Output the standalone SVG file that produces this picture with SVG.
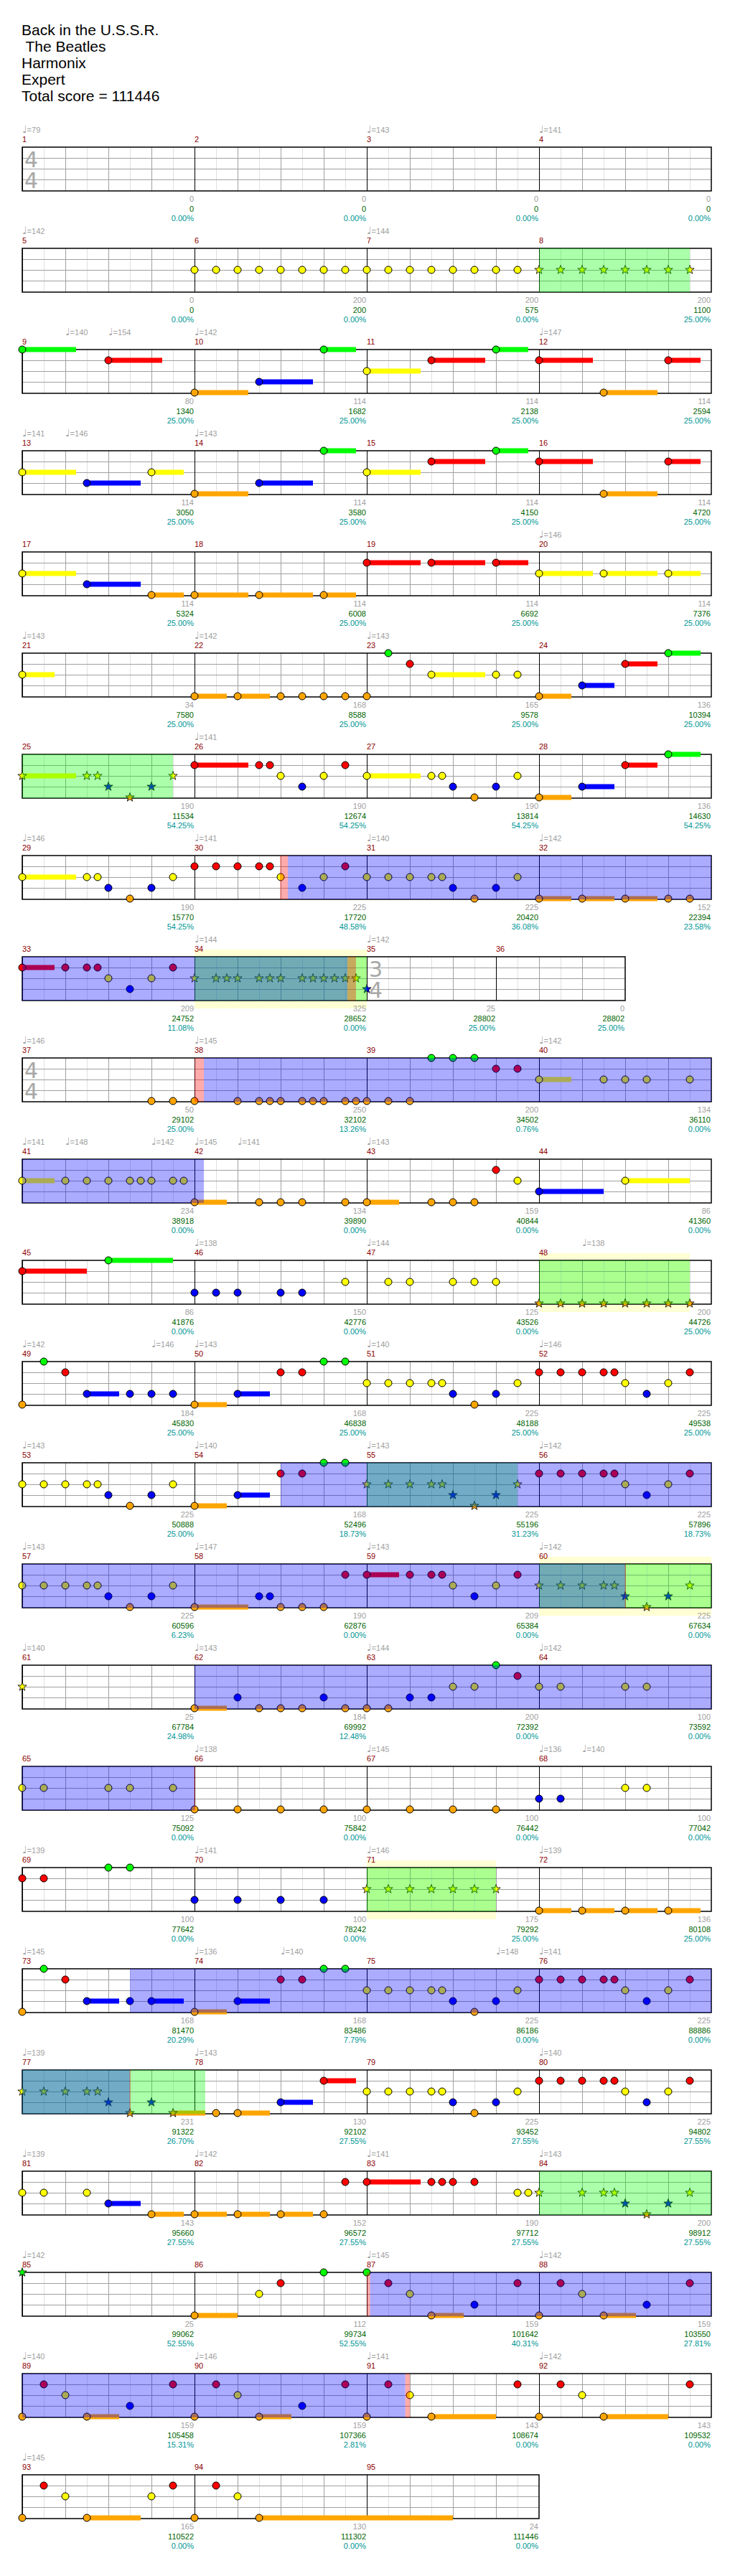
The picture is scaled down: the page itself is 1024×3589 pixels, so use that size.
<svg xmlns="http://www.w3.org/2000/svg" xmlns:xlink="http://www.w3.org/1999/xlink" width="1024" height="3589" viewBox="0 0 1024 3589">
<style>
.ti{font:21px "Liberation Sans",Arial,sans-serif;fill:#000}
.mn{font:11px "Liberation Sans",Arial,sans-serif;fill:#8b0000}
.tp{font:11px "Liberation Sans","DejaVu Sans",sans-serif;fill:#a0a0a0}
.q{font:14px "DejaVu Sans",sans-serif}
.l1,.l2,.l3{font:11px "Liberation Sans",Arial,sans-serif;text-anchor:end}
.l1{fill:#a0a0a0}.l2{fill:#006400}.l3{fill:#009696}
.ts{font:30px "DejaVu Sans",sans-serif;fill:#a8a8a8}
.g{fill:#00ff00}.r{fill:#ff0000}.y{fill:#ffff00}.b{fill:#0000ff}.o{fill:#ffa500}
circle{stroke:#000;stroke-width:1}
.bd{fill:none;stroke:#000;stroke-width:1.5}
.ob{fill:#0000ff;fill-opacity:.33}.og{fill:#00ff00;fill-opacity:.33}.or{fill:#ff0000;fill-opacity:.33}
.py{fill:#ffffd4}
</style>
<defs>
<g id="m4" shape-rendering="crispEdges">
<path d="M30 0V61M90 0V61M150 0V61M210 0V61" stroke="#e0e0e0"/>
<path d="M60 0V61M120 0V61M180 0V61M0 15H240M0 30H240M0 45H240" stroke="#a0a0a0"/>
<path d="M0 0V61" stroke="#000"/>
</g>
<g id="m3" shape-rendering="crispEdges">
<path d="M30 0V61M90 0V61M150 0V61" stroke="#e0e0e0"/>
<path d="M60 0V61M120 0V61M0 15H180M0 30H180M0 45H180" stroke="#a0a0a0"/>
<path d="M0 0V61" stroke="#000"/>
</g>
<polygon id="st" points="0,-6.5 1.53,-2.1 6.18,-2.01 2.47,0.8 3.82,5.26 0,2.6 -3.82,5.26 -2.47,0.8 -6.18,-2.01 -1.53,-2.1" stroke="#000" stroke-width="0.8"/>
</defs>
<rect width="1024" height="3589" fill="#fff"/>
<g id="title">
<text class="ti" x="30" y="49">Back in the U.S.S.R.</text>
<text class="ti" x="30" y="72" xml:space="preserve"> The Beatles</text>
<text class="ti" x="30" y="95">Harmonix</text>
<text class="ti" x="30" y="118">Expert</text>
<text class="ti" x="30" y="141">Total score = 111446</text>
</g>

<g id="row1" transform="translate(0,205)">
<use href="#m4" x="31"/><use href="#m4" x="271"/><use href="#m4" x="511"/><use href="#m4" x="751"/>
<rect class="bd" x="31" width="960" height="61"/>
<text class="ts" x="34" y="28">4</text><text class="ts" x="34" y="57">4</text>
<text class="mn" x="31" y="-7">1</text><text class="mn" x="271" y="-7">2</text><text class="mn" x="511" y="-7">3</text><text class="mn" x="751" y="-7">4</text>
<text class="tp" x="31" y="-20"><tspan class="q">♩</tspan>=79</text><text class="tp" x="511" y="-20"><tspan class="q">♩</tspan>=143</text><text class="tp" x="751" y="-20"><tspan class="q">♩</tspan>=141</text>
<text class="l1" x="270" y="76">0</text><text class="l1" x="510" y="76">0</text><text class="l1" x="750" y="76">0</text><text class="l1" x="990" y="76">0</text>
<text class="l2" x="270" y="90">0</text><text class="l2" x="510" y="90">0</text><text class="l2" x="750" y="90">0</text><text class="l2" x="990" y="90">0</text>
<text class="l3" x="270" y="103">0.00%</text><text class="l3" x="510" y="103">0.00%</text><text class="l3" x="750" y="103">0.00%</text><text class="l3" x="990" y="103">0.00%</text>
</g>

<g id="row2" transform="translate(0,346)">
<use href="#m4" x="31"/><use href="#m4" x="271"/><use href="#m4" x="511"/><use href="#m4" x="751"/>
<rect class="bd" x="31" width="960" height="61"/>
<text class="mn" x="31" y="-7">5</text><text class="mn" x="271" y="-7">6</text><text class="mn" x="511" y="-7">7</text><text class="mn" x="751" y="-7">8</text>
<text class="tp" x="31" y="-20"><tspan class="q">♩</tspan>=142</text><text class="tp" x="511" y="-20"><tspan class="q">♩</tspan>=144</text>
<circle class="y" cx="271" cy="30" r="5"/><circle class="y" cx="301" cy="30" r="5"/><circle class="y" cx="331" cy="30" r="5"/><circle class="y" cx="361" cy="30" r="5"/><circle class="y" cx="391" cy="30" r="5"/><circle class="y" cx="421" cy="30" r="5"/><circle class="y" cx="451" cy="30" r="5"/><circle class="y" cx="481" cy="30" r="5"/><circle class="y" cx="511" cy="30" r="5"/><circle class="y" cx="541" cy="30" r="5"/><circle class="y" cx="571" cy="30" r="5"/><circle class="y" cx="601" cy="30" r="5"/><circle class="y" cx="631" cy="30" r="5"/><circle class="y" cx="661" cy="30" r="5"/><circle class="y" cx="691" cy="30" r="5"/><circle class="y" cx="721" cy="30" r="5"/>
<use href="#st" class="y" x="751" y="30"/><use href="#st" class="y" x="781" y="30"/><use href="#st" class="y" x="811" y="30"/><use href="#st" class="y" x="841" y="30"/><use href="#st" class="y" x="871" y="30"/><use href="#st" class="y" x="901" y="30"/><use href="#st" class="y" x="931" y="30"/><use href="#st" class="y" x="961" y="30"/>
<rect class="og" x="751" y="0" width="210" height="61"/>
<text class="l1" x="270" y="76">0</text><text class="l1" x="510" y="76">200</text><text class="l1" x="750" y="76">200</text><text class="l1" x="990" y="76">200</text>
<text class="l2" x="270" y="90">0</text><text class="l2" x="510" y="90">200</text><text class="l2" x="750" y="90">575</text><text class="l2" x="990" y="90">1100</text>
<text class="l3" x="270" y="103">0.00%</text><text class="l3" x="510" y="103">0.00%</text><text class="l3" x="750" y="103">0.00%</text><text class="l3" x="990" y="103">25.00%</text>
</g>

<g id="row3" transform="translate(0,487)">
<use href="#m4" x="31"/><use href="#m4" x="271"/><use href="#m4" x="511"/><use href="#m4" x="751"/>
<rect class="bd" x="31" width="960" height="61"/>
<text class="mn" x="31" y="-7">9</text><text class="mn" x="271" y="-7">10</text><text class="mn" x="511" y="-7">11</text><text class="mn" x="751" y="-7">12</text>
<text class="tp" x="91" y="-20"><tspan class="q">♩</tspan>=140</text><text class="tp" x="151" y="-20"><tspan class="q">♩</tspan>=154</text><text class="tp" x="271" y="-20"><tspan class="q">♩</tspan>=142</text><text class="tp" x="751" y="-20"><tspan class="q">♩</tspan>=147</text>
<rect class="g" x="31" y="-3.5" width="75" height="7"/><circle class="g" cx="31" cy="0" r="5"/>
<rect class="r" x="151" y="11.5" width="75" height="7"/><circle class="r" cx="151" cy="15" r="5"/>
<rect class="o" x="271" y="56.5" width="75" height="7"/><circle class="o" cx="271" cy="60" r="5"/>
<rect class="b" x="361" y="41.5" width="75" height="7"/><circle class="b" cx="361" cy="45" r="5"/>
<rect class="g" x="451" y="-3.5" width="45" height="7"/><circle class="g" cx="451" cy="0" r="5"/>
<rect class="y" x="511" y="26.5" width="75" height="7"/><circle class="y" cx="511" cy="30" r="5"/>
<rect class="r" x="601" y="11.5" width="75" height="7"/><circle class="r" cx="601" cy="15" r="5"/>
<rect class="g" x="691" y="-3.5" width="45" height="7"/><circle class="g" cx="691" cy="0" r="5"/>
<rect class="r" x="751" y="11.5" width="75" height="7"/><circle class="r" cx="751" cy="15" r="5"/>
<rect class="o" x="841" y="56.5" width="75" height="7"/><circle class="o" cx="841" cy="60" r="5"/>
<rect class="r" x="931" y="11.5" width="45" height="7"/><circle class="r" cx="931" cy="15" r="5"/>
<text class="l1" x="270" y="76">80</text><text class="l1" x="510" y="76">114</text><text class="l1" x="750" y="76">114</text><text class="l1" x="990" y="76">114</text>
<text class="l2" x="270" y="90">1340</text><text class="l2" x="510" y="90">1682</text><text class="l2" x="750" y="90">2138</text><text class="l2" x="990" y="90">2594</text>
<text class="l3" x="270" y="103">25.00%</text><text class="l3" x="510" y="103">25.00%</text><text class="l3" x="750" y="103">25.00%</text><text class="l3" x="990" y="103">25.00%</text>
</g>

<g id="row4" transform="translate(0,628)">
<use href="#m4" x="31"/><use href="#m4" x="271"/><use href="#m4" x="511"/><use href="#m4" x="751"/>
<rect class="bd" x="31" width="960" height="61"/>
<text class="mn" x="31" y="-7">13</text><text class="mn" x="271" y="-7">14</text><text class="mn" x="511" y="-7">15</text><text class="mn" x="751" y="-7">16</text>
<text class="tp" x="31" y="-20"><tspan class="q">♩</tspan>=141</text><text class="tp" x="91" y="-20"><tspan class="q">♩</tspan>=146</text><text class="tp" x="271" y="-20"><tspan class="q">♩</tspan>=143</text>
<rect class="y" x="31" y="26.5" width="75" height="7"/><circle class="y" cx="31" cy="30" r="5"/>
<rect class="b" x="121" y="41.5" width="75" height="7"/><circle class="b" cx="121" cy="45" r="5"/>
<rect class="y" x="211" y="26.5" width="45" height="7"/><circle class="y" cx="211" cy="30" r="5"/>
<rect class="o" x="271" y="56.5" width="75" height="7"/><circle class="o" cx="271" cy="60" r="5"/>
<rect class="b" x="361" y="41.5" width="75" height="7"/><circle class="b" cx="361" cy="45" r="5"/>
<rect class="g" x="451" y="-3.5" width="45" height="7"/><circle class="g" cx="451" cy="0" r="5"/>
<rect class="y" x="511" y="26.5" width="75" height="7"/><circle class="y" cx="511" cy="30" r="5"/>
<rect class="r" x="601" y="11.5" width="75" height="7"/><circle class="r" cx="601" cy="15" r="5"/>
<rect class="g" x="691" y="-3.5" width="45" height="7"/><circle class="g" cx="691" cy="0" r="5"/>
<rect class="r" x="751" y="11.5" width="75" height="7"/><circle class="r" cx="751" cy="15" r="5"/>
<rect class="o" x="841" y="56.5" width="75" height="7"/><circle class="o" cx="841" cy="60" r="5"/>
<rect class="r" x="931" y="11.5" width="45" height="7"/><circle class="r" cx="931" cy="15" r="5"/>
<text class="l1" x="270" y="76">114</text><text class="l1" x="510" y="76">114</text><text class="l1" x="750" y="76">114</text><text class="l1" x="990" y="76">114</text>
<text class="l2" x="270" y="90">3050</text><text class="l2" x="510" y="90">3580</text><text class="l2" x="750" y="90">4150</text><text class="l2" x="990" y="90">4720</text>
<text class="l3" x="270" y="103">25.00%</text><text class="l3" x="510" y="103">25.00%</text><text class="l3" x="750" y="103">25.00%</text><text class="l3" x="990" y="103">25.00%</text>
</g>

<g id="row5" transform="translate(0,769)">
<use href="#m4" x="31"/><use href="#m4" x="271"/><use href="#m4" x="511"/><use href="#m4" x="751"/>
<rect class="bd" x="31" width="960" height="61"/>
<text class="mn" x="31" y="-7">17</text><text class="mn" x="271" y="-7">18</text><text class="mn" x="511" y="-7">19</text><text class="mn" x="751" y="-7">20</text>
<text class="tp" x="751" y="-20"><tspan class="q">♩</tspan>=146</text>
<rect class="y" x="31" y="26.5" width="75" height="7"/><circle class="y" cx="31" cy="30" r="5"/>
<rect class="b" x="121" y="41.5" width="75" height="7"/><circle class="b" cx="121" cy="45" r="5"/>
<rect class="o" x="211" y="56.5" width="45" height="7"/><circle class="o" cx="211" cy="60" r="5"/>
<rect class="o" x="271" y="56.5" width="75" height="7"/><circle class="o" cx="271" cy="60" r="5"/>
<rect class="o" x="361" y="56.5" width="75" height="7"/><circle class="o" cx="361" cy="60" r="5"/>
<rect class="o" x="451" y="56.5" width="45" height="7"/><circle class="o" cx="451" cy="60" r="5"/>
<rect class="r" x="511" y="11.5" width="75" height="7"/><circle class="r" cx="511" cy="15" r="5"/>
<rect class="r" x="601" y="11.5" width="75" height="7"/><circle class="r" cx="601" cy="15" r="5"/>
<rect class="r" x="691" y="11.5" width="45" height="7"/><circle class="r" cx="691" cy="15" r="5"/>
<rect class="y" x="751" y="26.5" width="75" height="7"/><circle class="y" cx="751" cy="30" r="5"/>
<rect class="y" x="841" y="26.5" width="75" height="7"/><circle class="y" cx="841" cy="30" r="5"/>
<rect class="y" x="931" y="26.5" width="45" height="7"/><circle class="y" cx="931" cy="30" r="5"/>
<text class="l1" x="270" y="76">114</text><text class="l1" x="510" y="76">114</text><text class="l1" x="750" y="76">114</text><text class="l1" x="990" y="76">114</text>
<text class="l2" x="270" y="90">5324</text><text class="l2" x="510" y="90">6008</text><text class="l2" x="750" y="90">6692</text><text class="l2" x="990" y="90">7376</text>
<text class="l3" x="270" y="103">25.00%</text><text class="l3" x="510" y="103">25.00%</text><text class="l3" x="750" y="103">25.00%</text><text class="l3" x="990" y="103">25.00%</text>
</g>

<g id="row6" transform="translate(0,910)">
<use href="#m4" x="31"/><use href="#m4" x="271"/><use href="#m4" x="511"/><use href="#m4" x="751"/>
<rect class="bd" x="31" width="960" height="61"/>
<text class="mn" x="31" y="-7">21</text><text class="mn" x="271" y="-7">22</text><text class="mn" x="511" y="-7">23</text><text class="mn" x="751" y="-7">24</text>
<text class="tp" x="31" y="-20"><tspan class="q">♩</tspan>=143</text><text class="tp" x="271" y="-20"><tspan class="q">♩</tspan>=142</text><text class="tp" x="511" y="-20"><tspan class="q">♩</tspan>=143</text>
<rect class="y" x="31" y="26.5" width="45" height="7"/><circle class="y" cx="31" cy="30" r="5"/>
<rect class="o" x="271" y="56.5" width="45" height="7"/><circle class="o" cx="271" cy="60" r="5"/>
<rect class="o" x="331" y="56.5" width="45" height="7"/><circle class="o" cx="331" cy="60" r="5"/>
<circle class="o" cx="391" cy="60" r="5"/><circle class="o" cx="421" cy="60" r="5"/><circle class="o" cx="451" cy="60" r="5"/><circle class="o" cx="481" cy="60" r="5"/><circle class="o" cx="511" cy="60" r="5"/>
<circle class="g" cx="541" cy="0" r="5"/><circle class="r" cx="571" cy="15" r="5"/>
<rect class="y" x="601" y="26.5" width="75" height="7"/><circle class="y" cx="601" cy="30" r="5"/>
<circle class="y" cx="691" cy="30" r="5"/><circle class="y" cx="721" cy="30" r="5"/>
<rect class="o" x="751" y="56.5" width="45" height="7"/><circle class="o" cx="751" cy="60" r="5"/>
<rect class="b" x="811" y="41.5" width="45" height="7"/><circle class="b" cx="811" cy="45" r="5"/>
<rect class="r" x="871" y="11.5" width="45" height="7"/><circle class="r" cx="871" cy="15" r="5"/>
<rect class="g" x="931" y="-3.5" width="45" height="7"/><circle class="g" cx="931" cy="0" r="5"/>
<text class="l1" x="270" y="76">34</text><text class="l1" x="510" y="76">168</text><text class="l1" x="750" y="76">165</text><text class="l1" x="990" y="76">136</text>
<text class="l2" x="270" y="90">7580</text><text class="l2" x="510" y="90">8588</text><text class="l2" x="750" y="90">9578</text><text class="l2" x="990" y="90">10394</text>
<text class="l3" x="270" y="103">25.00%</text><text class="l3" x="510" y="103">25.00%</text><text class="l3" x="750" y="103">25.00%</text><text class="l3" x="990" y="103">25.00%</text>
</g>

<g id="row7" transform="translate(0,1051)">
<use href="#m4" x="31"/><use href="#m4" x="271"/><use href="#m4" x="511"/><use href="#m4" x="751"/>
<rect class="bd" x="31" width="960" height="61"/>
<text class="mn" x="31" y="-7">25</text><text class="mn" x="271" y="-7">26</text><text class="mn" x="511" y="-7">27</text><text class="mn" x="751" y="-7">28</text>
<text class="tp" x="271" y="-20"><tspan class="q">♩</tspan>=141</text>
<rect class="y" x="31" y="26.5" width="75" height="7"/><use href="#st" class="y" x="31" y="30"/>
<use href="#st" class="y" x="121" y="30"/><use href="#st" class="y" x="136" y="30"/><use href="#st" class="b" x="151" y="45"/><use href="#st" class="o" x="181" y="60"/><use href="#st" class="b" x="211" y="45"/><use href="#st" class="y" x="241" y="30"/>
<rect class="r" x="271" y="11.5" width="75" height="7"/><circle class="r" cx="271" cy="15" r="5"/>
<circle class="r" cx="361" cy="15" r="5"/><circle class="r" cx="376" cy="15" r="5"/><circle class="y" cx="391" cy="30" r="5"/><circle class="b" cx="421" cy="45" r="5"/><circle class="y" cx="451" cy="30" r="5"/><circle class="r" cx="481" cy="15" r="5"/>
<rect class="y" x="511" y="26.5" width="75" height="7"/><circle class="y" cx="511" cy="30" r="5"/>
<circle class="y" cx="601" cy="30" r="5"/><circle class="y" cx="616" cy="30" r="5"/><circle class="b" cx="631" cy="45" r="5"/><circle class="o" cx="661" cy="60" r="5"/><circle class="b" cx="691" cy="45" r="5"/><circle class="y" cx="721" cy="30" r="5"/>
<rect class="o" x="751" y="56.5" width="45" height="7"/><circle class="o" cx="751" cy="60" r="5"/>
<rect class="b" x="811" y="41.5" width="45" height="7"/><circle class="b" cx="811" cy="45" r="5"/>
<rect class="r" x="871" y="11.5" width="45" height="7"/><circle class="r" cx="871" cy="15" r="5"/>
<rect class="g" x="931" y="-3.5" width="45" height="7"/><circle class="g" cx="931" cy="0" r="5"/>
<rect class="og" x="31" y="0" width="210" height="61"/>
<text class="l1" x="270" y="76">190</text><text class="l1" x="510" y="76">190</text><text class="l1" x="750" y="76">190</text><text class="l1" x="990" y="76">136</text>
<text class="l2" x="270" y="90">11534</text><text class="l2" x="510" y="90">12674</text><text class="l2" x="750" y="90">13814</text><text class="l2" x="990" y="90">14630</text>
<text class="l3" x="270" y="103">54.25%</text><text class="l3" x="510" y="103">54.25%</text><text class="l3" x="750" y="103">54.25%</text><text class="l3" x="990" y="103">54.25%</text>
</g>

<g id="row8" transform="translate(0,1192)">
<use href="#m4" x="31"/><use href="#m4" x="271"/><use href="#m4" x="511"/><use href="#m4" x="751"/>
<rect class="bd" x="31" width="960" height="61"/>
<text class="mn" x="31" y="-7">29</text><text class="mn" x="271" y="-7">30</text><text class="mn" x="511" y="-7">31</text><text class="mn" x="751" y="-7">32</text>
<text class="tp" x="31" y="-20"><tspan class="q">♩</tspan>=146</text><text class="tp" x="271" y="-20"><tspan class="q">♩</tspan>=141</text><text class="tp" x="511" y="-20"><tspan class="q">♩</tspan>=140</text><text class="tp" x="751" y="-20"><tspan class="q">♩</tspan>=142</text>
<rect class="y" x="31" y="26.5" width="75" height="7"/><circle class="y" cx="31" cy="30" r="5"/>
<circle class="y" cx="121" cy="30" r="5"/><circle class="y" cx="136" cy="30" r="5"/><circle class="b" cx="151" cy="45" r="5"/><circle class="o" cx="181" cy="60" r="5"/><circle class="b" cx="211" cy="45" r="5"/><circle class="y" cx="241" cy="30" r="5"/>
<circle class="r" cx="271" cy="15" r="5"/><circle class="r" cx="301" cy="15" r="5"/><circle class="r" cx="331" cy="15" r="5"/><circle class="r" cx="361" cy="15" r="5"/><circle class="r" cx="376" cy="15" r="5"/>
<circle class="y" cx="391" cy="30" r="5"/><circle class="b" cx="421" cy="45" r="5"/><circle class="y" cx="451" cy="30" r="5"/><circle class="r" cx="481" cy="15" r="5"/>
<circle class="y" cx="511" cy="30" r="5"/><circle class="y" cx="541" cy="30" r="5"/><circle class="y" cx="571" cy="30" r="5"/><circle class="y" cx="601" cy="30" r="5"/><circle class="y" cx="616" cy="30" r="5"/>
<circle class="b" cx="631" cy="45" r="5"/><circle class="o" cx="661" cy="60" r="5"/><circle class="b" cx="691" cy="45" r="5"/><circle class="y" cx="721" cy="30" r="5"/>
<rect class="o" x="751" y="56.5" width="45" height="7"/><circle class="o" cx="751" cy="60" r="5"/>
<rect class="o" x="811" y="56.5" width="45" height="7"/><circle class="o" cx="811" cy="60" r="5"/>
<rect class="o" x="871" y="56.5" width="45" height="7"/><circle class="o" cx="871" cy="60" r="5"/>
<circle class="o" cx="931" cy="60" r="5"/><circle class="o" cx="961" cy="60" r="5"/>
<rect class="or" x="390" y="0" width="11" height="61"/><rect class="ob" x="401" y="0" width="590" height="61"/>
<text class="l1" x="270" y="76">190</text><text class="l1" x="510" y="76">225</text><text class="l1" x="750" y="76">225</text><text class="l1" x="990" y="76">152</text>
<text class="l2" x="270" y="90">15770</text><text class="l2" x="510" y="90">17720</text><text class="l2" x="750" y="90">20420</text><text class="l2" x="990" y="90">22394</text>
<text class="l3" x="270" y="103">54.25%</text><text class="l3" x="510" y="103">48.58%</text><text class="l3" x="750" y="103">36.08%</text><text class="l3" x="990" y="103">23.58%</text>
</g>

<g id="row9" transform="translate(0,1333)">
<rect class="py" x="271" y="-10" width="240" height="82"/>
<use href="#m4" x="31"/><use href="#m4" x="271"/><use href="#m3" x="511"/><use href="#m3" x="691"/>
<rect class="bd" x="31" width="840" height="61"/>
<text class="ts" x="514" y="28">3</text><text class="ts" x="514" y="57">4</text>
<text class="mn" x="31" y="-7">33</text><text class="mn" x="271" y="-7">34</text><text class="mn" x="511" y="-7">35</text><text class="mn" x="691" y="-7">36</text>
<text class="tp" x="271" y="-20"><tspan class="q">♩</tspan>=144</text><text class="tp" x="511" y="-20"><tspan class="q">♩</tspan>=142</text>
<rect class="r" x="31" y="11.5" width="45" height="7"/><circle class="r" cx="31" cy="15" r="5"/>
<circle class="r" cx="91" cy="15" r="5"/><circle class="r" cx="121" cy="15" r="5"/><circle class="r" cx="136" cy="15" r="5"/><circle class="y" cx="151" cy="30" r="5"/><circle class="b" cx="181" cy="45" r="5"/><circle class="y" cx="211" cy="30" r="5"/><circle class="r" cx="241" cy="15" r="5"/>
<use href="#st" class="y" x="271" y="30"/><use href="#st" class="y" x="301" y="30"/><use href="#st" class="y" x="316" y="30"/><use href="#st" class="y" x="331" y="30"/><use href="#st" class="y" x="361" y="30"/><use href="#st" class="y" x="376" y="30"/><use href="#st" class="y" x="391" y="30"/><use href="#st" class="y" x="421" y="30"/><use href="#st" class="y" x="436" y="30"/><use href="#st" class="y" x="451" y="30"/><use href="#st" class="y" x="466" y="30"/><use href="#st" class="y" x="481" y="30"/><use href="#st" class="y" x="496" y="30"/><use href="#st" class="b" x="511" y="45"/>
<rect class="og" x="271" y="0" width="240" height="61"/><rect class="ob" x="31" y="0" width="453" height="61"/><rect class="or" x="484" y="0" width="12" height="61"/>
<text class="l1" x="270" y="76">209</text><text class="l1" x="510" y="76">325</text><text class="l1" x="690" y="76">25</text><text class="l1" x="870" y="76">0</text>
<text class="l2" x="270" y="90">24752</text><text class="l2" x="510" y="90">28652</text><text class="l2" x="690" y="90">28802</text><text class="l2" x="870" y="90">28802</text>
<text class="l3" x="270" y="103">11.08%</text><text class="l3" x="510" y="103">0.00%</text><text class="l3" x="690" y="103">25.00%</text><text class="l3" x="870" y="103">25.00%</text>
</g>

<g id="row10" transform="translate(0,1474)">
<use href="#m4" x="31"/><use href="#m4" x="271"/><use href="#m4" x="511"/><use href="#m4" x="751"/>
<rect class="bd" x="31" width="960" height="61"/>
<text class="ts" x="34" y="28">4</text><text class="ts" x="34" y="57">4</text>
<text class="mn" x="31" y="-7">37</text><text class="mn" x="271" y="-7">38</text><text class="mn" x="511" y="-7">39</text><text class="mn" x="751" y="-7">40</text>
<text class="tp" x="31" y="-20"><tspan class="q">♩</tspan>=146</text><text class="tp" x="271" y="-20"><tspan class="q">♩</tspan>=145</text><text class="tp" x="751" y="-20"><tspan class="q">♩</tspan>=142</text>
<circle class="o" cx="211" cy="60" r="5"/><circle class="o" cx="241" cy="60" r="5"/><circle class="o" cx="271" cy="60" r="5"/>
<circle class="o" cx="331" cy="60" r="5"/><circle class="o" cx="361" cy="60" r="5"/><circle class="o" cx="376" cy="60" r="5"/><circle class="o" cx="391" cy="60" r="5"/><circle class="o" cx="421" cy="60" r="5"/><circle class="o" cx="436" cy="60" r="5"/><circle class="o" cx="451" cy="60" r="5"/><circle class="o" cx="481" cy="60" r="5"/><circle class="o" cx="496" cy="60" r="5"/><circle class="o" cx="511" cy="60" r="5"/><circle class="o" cx="541" cy="60" r="5"/><circle class="o" cx="571" cy="60" r="5"/>
<circle class="g" cx="601" cy="0" r="5"/><circle class="g" cx="631" cy="0" r="5"/><circle class="g" cx="661" cy="0" r="5"/>
<circle class="r" cx="691" cy="15" r="5"/><circle class="r" cx="721" cy="15" r="5"/>
<rect class="y" x="751" y="26.5" width="45" height="7"/><circle class="y" cx="751" cy="30" r="5"/>
<circle class="y" cx="841" cy="30" r="5"/><circle class="y" cx="871" cy="30" r="5"/><circle class="y" cx="901" cy="30" r="5"/><circle class="y" cx="961" cy="30" r="5"/>
<rect class="or" x="271" y="0" width="13" height="61"/><rect class="ob" x="284" y="0" width="707" height="61"/>
<text class="l1" x="270" y="76">50</text><text class="l1" x="510" y="76">250</text><text class="l1" x="750" y="76">200</text><text class="l1" x="990" y="76">134</text>
<text class="l2" x="270" y="90">29102</text><text class="l2" x="510" y="90">32102</text><text class="l2" x="750" y="90">34502</text><text class="l2" x="990" y="90">36110</text>
<text class="l3" x="270" y="103">25.00%</text><text class="l3" x="510" y="103">13.26%</text><text class="l3" x="750" y="103">0.76%</text><text class="l3" x="990" y="103">0.00%</text>
</g>

<g id="row11" transform="translate(0,1615)">
<use href="#m4" x="31"/><use href="#m4" x="271"/><use href="#m4" x="511"/><use href="#m4" x="751"/>
<rect class="bd" x="31" width="960" height="61"/>
<text class="mn" x="31" y="-7">41</text><text class="mn" x="271" y="-7">42</text><text class="mn" x="511" y="-7">43</text><text class="mn" x="751" y="-7">44</text>
<text class="tp" x="31" y="-20"><tspan class="q">♩</tspan>=141</text><text class="tp" x="91" y="-20"><tspan class="q">♩</tspan>=148</text><text class="tp" x="211" y="-20"><tspan class="q">♩</tspan>=142</text><text class="tp" x="271" y="-20"><tspan class="q">♩</tspan>=145</text><text class="tp" x="331" y="-20"><tspan class="q">♩</tspan>=141</text><text class="tp" x="511" y="-20"><tspan class="q">♩</tspan>=143</text>
<rect class="y" x="31" y="26.5" width="45" height="7"/><circle class="y" cx="31" cy="30" r="5"/>
<circle class="y" cx="91" cy="30" r="5"/><circle class="y" cx="121" cy="30" r="5"/><circle class="y" cx="151" cy="30" r="5"/><circle class="y" cx="181" cy="30" r="5"/><circle class="y" cx="196" cy="30" r="5"/><circle class="y" cx="211" cy="30" r="5"/><circle class="y" cx="241" cy="30" r="5"/><circle class="y" cx="256" cy="30" r="5"/>
<rect class="o" x="271" y="56.5" width="45" height="7"/><circle class="o" cx="271" cy="60" r="5"/>
<circle class="o" cx="361" cy="60" r="5"/><circle class="o" cx="391" cy="60" r="5"/><circle class="o" cx="421" cy="60" r="5"/><circle class="o" cx="481" cy="60" r="5"/>
<rect class="o" x="511" y="56.5" width="45" height="7"/><circle class="o" cx="511" cy="60" r="5"/>
<circle class="o" cx="601" cy="60" r="5"/><circle class="o" cx="631" cy="60" r="5"/><circle class="o" cx="661" cy="60" r="5"/>
<circle class="r" cx="691" cy="15" r="5"/><circle class="y" cx="721" cy="30" r="5"/>
<rect class="b" x="751" y="41.5" width="90" height="7"/><circle class="b" cx="751" cy="45" r="5"/>
<rect class="y" x="871" y="26.5" width="90" height="7"/><circle class="y" cx="871" cy="30" r="5"/>
<rect class="ob" x="31" y="0" width="253" height="61"/>
<text class="l1" x="270" y="76">234</text><text class="l1" x="510" y="76">134</text><text class="l1" x="750" y="76">159</text><text class="l1" x="990" y="76">86</text>
<text class="l2" x="270" y="90">38918</text><text class="l2" x="510" y="90">39890</text><text class="l2" x="750" y="90">40844</text><text class="l2" x="990" y="90">41360</text>
<text class="l3" x="270" y="103">0.00%</text><text class="l3" x="510" y="103">0.00%</text><text class="l3" x="750" y="103">0.00%</text><text class="l3" x="990" y="103">0.00%</text>
</g>

<g id="row12" transform="translate(0,1756)">
<rect class="py" x="751" y="-10" width="210" height="82"/>
<use href="#m4" x="31"/><use href="#m4" x="271"/><use href="#m4" x="511"/><use href="#m4" x="751"/>
<rect class="bd" x="31" width="960" height="61"/>
<text class="mn" x="31" y="-7">45</text><text class="mn" x="271" y="-7">46</text><text class="mn" x="511" y="-7">47</text><text class="mn" x="751" y="-7">48</text>
<text class="tp" x="271" y="-20"><tspan class="q">♩</tspan>=138</text><text class="tp" x="511" y="-20"><tspan class="q">♩</tspan>=144</text><text class="tp" x="811" y="-20"><tspan class="q">♩</tspan>=138</text>
<rect class="r" x="31" y="11.5" width="90" height="7"/><circle class="r" cx="31" cy="15" r="5"/>
<rect class="g" x="151" y="-3.5" width="90" height="7"/><circle class="g" cx="151" cy="0" r="5"/>
<circle class="b" cx="271" cy="45" r="5"/><circle class="b" cx="301" cy="45" r="5"/><circle class="b" cx="331" cy="45" r="5"/><circle class="b" cx="391" cy="45" r="5"/><circle class="b" cx="421" cy="45" r="5"/>
<circle class="y" cx="481" cy="30" r="5"/><circle class="y" cx="541" cy="30" r="5"/><circle class="y" cx="571" cy="30" r="5"/><circle class="y" cx="631" cy="30" r="5"/><circle class="y" cx="661" cy="30" r="5"/><circle class="y" cx="691" cy="30" r="5"/>
<use href="#st" class="o" x="751" y="60"/><use href="#st" class="o" x="781" y="60"/><use href="#st" class="o" x="811" y="60"/><use href="#st" class="o" x="841" y="60"/><use href="#st" class="o" x="871" y="60"/><use href="#st" class="o" x="901" y="60"/><use href="#st" class="o" x="931" y="60"/><use href="#st" class="o" x="961" y="60"/>
<rect class="og" x="751" y="0" width="210" height="61"/>
<text class="l1" x="270" y="76">86</text><text class="l1" x="510" y="76">150</text><text class="l1" x="750" y="76">125</text><text class="l1" x="990" y="76">200</text>
<text class="l2" x="270" y="90">41876</text><text class="l2" x="510" y="90">42776</text><text class="l2" x="750" y="90">43526</text><text class="l2" x="990" y="90">44726</text>
<text class="l3" x="270" y="103">0.00%</text><text class="l3" x="510" y="103">0.00%</text><text class="l3" x="750" y="103">0.00%</text><text class="l3" x="990" y="103">25.00%</text>
</g>

<g id="row13" transform="translate(0,1897)">
<use href="#m4" x="31"/><use href="#m4" x="271"/><use href="#m4" x="511"/><use href="#m4" x="751"/>
<rect class="bd" x="31" width="960" height="61"/>
<text class="mn" x="31" y="-7">49</text><text class="mn" x="271" y="-7">50</text><text class="mn" x="511" y="-7">51</text><text class="mn" x="751" y="-7">52</text>
<text class="tp" x="31" y="-20"><tspan class="q">♩</tspan>=142</text><text class="tp" x="211" y="-20"><tspan class="q">♩</tspan>=146</text><text class="tp" x="271" y="-20"><tspan class="q">♩</tspan>=143</text><text class="tp" x="511" y="-20"><tspan class="q">♩</tspan>=140</text><text class="tp" x="751" y="-20"><tspan class="q">♩</tspan>=146</text>
<circle class="o" cx="31" cy="60" r="5"/><circle class="g" cx="61" cy="0" r="5"/><circle class="r" cx="91" cy="15" r="5"/>
<rect class="b" x="121" y="41.5" width="45" height="7"/><circle class="b" cx="121" cy="45" r="5"/>
<circle class="b" cx="181" cy="45" r="5"/><circle class="b" cx="211" cy="45" r="5"/><circle class="b" cx="241" cy="45" r="5"/>
<rect class="o" x="271" y="56.5" width="45" height="7"/><circle class="o" cx="271" cy="60" r="5"/>
<rect class="b" x="331" y="41.5" width="45" height="7"/><circle class="b" cx="331" cy="45" r="5"/>
<circle class="r" cx="391" cy="15" r="5"/><circle class="r" cx="421" cy="15" r="5"/><circle class="g" cx="451" cy="0" r="5"/><circle class="g" cx="481" cy="0" r="5"/>
<circle class="y" cx="511" cy="30" r="5"/><circle class="y" cx="541" cy="30" r="5"/><circle class="y" cx="571" cy="30" r="5"/><circle class="y" cx="601" cy="30" r="5"/><circle class="y" cx="616" cy="30" r="5"/>
<circle class="b" cx="631" cy="45" r="5"/><circle class="o" cx="661" cy="60" r="5"/><circle class="b" cx="691" cy="45" r="5"/><circle class="y" cx="721" cy="30" r="5"/>
<circle class="r" cx="751" cy="15" r="5"/><circle class="r" cx="781" cy="15" r="5"/><circle class="r" cx="811" cy="15" r="5"/><circle class="r" cx="841" cy="15" r="5"/><circle class="r" cx="856" cy="15" r="5"/>
<circle class="y" cx="871" cy="30" r="5"/><circle class="b" cx="901" cy="45" r="5"/><circle class="y" cx="931" cy="30" r="5"/><circle class="r" cx="961" cy="15" r="5"/>
<text class="l1" x="270" y="76">184</text><text class="l1" x="510" y="76">168</text><text class="l1" x="750" y="76">225</text><text class="l1" x="990" y="76">225</text>
<text class="l2" x="270" y="90">45830</text><text class="l2" x="510" y="90">46838</text><text class="l2" x="750" y="90">48188</text><text class="l2" x="990" y="90">49538</text>
<text class="l3" x="270" y="103">25.00%</text><text class="l3" x="510" y="103">25.00%</text><text class="l3" x="750" y="103">25.00%</text><text class="l3" x="990" y="103">25.00%</text>
</g>

<g id="row14" transform="translate(0,2038)">
<use href="#m4" x="31"/><use href="#m4" x="271"/><use href="#m4" x="511"/><use href="#m4" x="751"/>
<rect class="bd" x="31" width="960" height="61"/>
<text class="mn" x="31" y="-7">53</text><text class="mn" x="271" y="-7">54</text><text class="mn" x="511" y="-7">55</text><text class="mn" x="751" y="-7">56</text>
<text class="tp" x="31" y="-20"><tspan class="q">♩</tspan>=143</text><text class="tp" x="271" y="-20"><tspan class="q">♩</tspan>=140</text><text class="tp" x="511" y="-20"><tspan class="q">♩</tspan>=143</text><text class="tp" x="751" y="-20"><tspan class="q">♩</tspan>=142</text>
<circle class="y" cx="31" cy="30" r="5"/><circle class="y" cx="61" cy="30" r="5"/><circle class="y" cx="91" cy="30" r="5"/><circle class="y" cx="121" cy="30" r="5"/><circle class="y" cx="136" cy="30" r="5"/>
<circle class="b" cx="151" cy="45" r="5"/><circle class="o" cx="181" cy="60" r="5"/><circle class="b" cx="211" cy="45" r="5"/><circle class="y" cx="241" cy="30" r="5"/>
<rect class="o" x="271" y="56.5" width="45" height="7"/><circle class="o" cx="271" cy="60" r="5"/>
<rect class="b" x="331" y="41.5" width="45" height="7"/><circle class="b" cx="331" cy="45" r="5"/>
<circle class="r" cx="391" cy="15" r="5"/><circle class="r" cx="421" cy="15" r="5"/><circle class="g" cx="451" cy="0" r="5"/><circle class="g" cx="481" cy="0" r="5"/>
<use href="#st" class="y" x="511" y="30"/><use href="#st" class="y" x="541" y="30"/><use href="#st" class="y" x="571" y="30"/><use href="#st" class="y" x="601" y="30"/><use href="#st" class="y" x="616" y="30"/><use href="#st" class="b" x="631" y="45"/><use href="#st" class="o" x="661" y="60"/><use href="#st" class="b" x="691" y="45"/><use href="#st" class="y" x="721" y="30"/>
<circle class="r" cx="751" cy="15" r="5"/><circle class="r" cx="781" cy="15" r="5"/><circle class="r" cx="811" cy="15" r="5"/><circle class="r" cx="841" cy="15" r="5"/><circle class="r" cx="856" cy="15" r="5"/>
<circle class="y" cx="871" cy="30" r="5"/><circle class="b" cx="901" cy="45" r="5"/><circle class="y" cx="931" cy="30" r="5"/><circle class="r" cx="961" cy="15" r="5"/>
<rect class="og" x="511" y="0" width="210" height="61"/><rect class="ob" x="391" y="0" width="600" height="61"/>
<text class="l1" x="270" y="76">225</text><text class="l1" x="510" y="76">168</text><text class="l1" x="750" y="76">225</text><text class="l1" x="990" y="76">225</text>
<text class="l2" x="270" y="90">50888</text><text class="l2" x="510" y="90">52496</text><text class="l2" x="750" y="90">55196</text><text class="l2" x="990" y="90">57896</text>
<text class="l3" x="270" y="103">25.00%</text><text class="l3" x="510" y="103">18.73%</text><text class="l3" x="750" y="103">31.23%</text><text class="l3" x="990" y="103">18.73%</text>
</g>

<g id="row15" transform="translate(0,2179)">
<rect class="py" x="751" y="-10" width="240" height="82"/>
<use href="#m4" x="31"/><use href="#m4" x="271"/><use href="#m4" x="511"/><use href="#m4" x="751"/>
<rect class="bd" x="31" width="960" height="61"/>
<text class="mn" x="31" y="-7">57</text><text class="mn" x="271" y="-7">58</text><text class="mn" x="511" y="-7">59</text><text class="mn" x="751" y="-7">60</text>
<text class="tp" x="31" y="-20"><tspan class="q">♩</tspan>=143</text><text class="tp" x="271" y="-20"><tspan class="q">♩</tspan>=147</text><text class="tp" x="511" y="-20"><tspan class="q">♩</tspan>=143</text><text class="tp" x="751" y="-20"><tspan class="q">♩</tspan>=142</text>
<circle class="y" cx="31" cy="30" r="5"/><circle class="y" cx="61" cy="30" r="5"/><circle class="y" cx="91" cy="30" r="5"/><circle class="y" cx="121" cy="30" r="5"/><circle class="y" cx="136" cy="30" r="5"/>
<circle class="b" cx="151" cy="45" r="5"/><circle class="o" cx="181" cy="60" r="5"/><circle class="b" cx="211" cy="45" r="5"/><circle class="y" cx="241" cy="30" r="5"/>
<rect class="o" x="271" y="56.5" width="75" height="7"/><circle class="o" cx="271" cy="60" r="5"/>
<circle class="b" cx="361" cy="45" r="5"/><circle class="b" cx="376" cy="45" r="5"/><circle class="o" cx="391" cy="60" r="5"/><circle class="o" cx="421" cy="60" r="5"/><circle class="o" cx="451" cy="60" r="5"/><circle class="r" cx="481" cy="15" r="5"/>
<rect class="r" x="511" y="11.5" width="45" height="7"/><circle class="r" cx="511" cy="15" r="5"/>
<circle class="r" cx="571" cy="15" r="5"/><circle class="r" cx="601" cy="15" r="5"/><circle class="r" cx="616" cy="15" r="5"/><circle class="y" cx="631" cy="30" r="5"/><circle class="b" cx="661" cy="45" r="5"/><circle class="y" cx="691" cy="30" r="5"/><circle class="r" cx="721" cy="15" r="5"/>
<use href="#st" class="y" x="751" y="30"/><use href="#st" class="y" x="781" y="30"/><use href="#st" class="y" x="811" y="30"/><use href="#st" class="y" x="841" y="30"/><use href="#st" class="y" x="856" y="30"/><use href="#st" class="b" x="871" y="45"/><use href="#st" class="o" x="901" y="60"/><use href="#st" class="b" x="931" y="45"/><use href="#st" class="y" x="961" y="30"/>
<rect class="og" x="751" y="0" width="240" height="61"/><rect class="ob" x="31" y="0" width="840" height="61"/><rect class="or" x="870.5" y="0" width="1.5" height="61"/>
<text class="l1" x="270" y="76">225</text><text class="l1" x="510" y="76">190</text><text class="l1" x="750" y="76">209</text><text class="l1" x="990" y="76">225</text>
<text class="l2" x="270" y="90">60596</text><text class="l2" x="510" y="90">62876</text><text class="l2" x="750" y="90">65384</text><text class="l2" x="990" y="90">67634</text>
<text class="l3" x="270" y="103">6.23%</text><text class="l3" x="510" y="103">0.00%</text><text class="l3" x="750" y="103">0.00%</text><text class="l3" x="990" y="103">0.00%</text>
</g>

<g id="row16" transform="translate(0,2320)">
<use href="#m4" x="31"/><use href="#m4" x="271"/><use href="#m4" x="511"/><use href="#m4" x="751"/>
<rect class="bd" x="31" width="960" height="61"/>
<text class="mn" x="31" y="-7">61</text><text class="mn" x="271" y="-7">62</text><text class="mn" x="511" y="-7">63</text><text class="mn" x="751" y="-7">64</text>
<text class="tp" x="31" y="-20"><tspan class="q">♩</tspan>=140</text><text class="tp" x="271" y="-20"><tspan class="q">♩</tspan>=143</text><text class="tp" x="511" y="-20"><tspan class="q">♩</tspan>=144</text><text class="tp" x="751" y="-20"><tspan class="q">♩</tspan>=142</text>
<use href="#st" class="y" x="31" y="30"/>
<rect class="o" x="271" y="56.5" width="45" height="7"/><circle class="o" cx="271" cy="60" r="5"/>
<circle class="b" cx="331" cy="45" r="5"/><circle class="o" cx="361" cy="60" r="5"/><circle class="o" cx="391" cy="60" r="5"/><circle class="o" cx="421" cy="60" r="5"/><circle class="b" cx="451" cy="45" r="5"/><circle class="o" cx="481" cy="60" r="5"/><circle class="o" cx="511" cy="60" r="5"/><circle class="o" cx="541" cy="60" r="5"/>
<circle class="b" cx="571" cy="45" r="5"/><circle class="b" cx="601" cy="45" r="5"/><circle class="y" cx="631" cy="30" r="5"/><circle class="y" cx="661" cy="30" r="5"/><circle class="g" cx="691" cy="0" r="5"/><circle class="r" cx="721" cy="15" r="5"/>
<circle class="y" cx="751" cy="30" r="5"/><circle class="y" cx="781" cy="30" r="5"/><circle class="y" cx="871" cy="30" r="5"/><circle class="y" cx="901" cy="30" r="5"/>
<rect class="ob" x="271" y="0" width="720" height="61"/>
<text class="l1" x="270" y="76">25</text><text class="l1" x="510" y="76">184</text><text class="l1" x="750" y="76">200</text><text class="l1" x="990" y="76">100</text>
<text class="l2" x="270" y="90">67784</text><text class="l2" x="510" y="90">69992</text><text class="l2" x="750" y="90">72392</text><text class="l2" x="990" y="90">73592</text>
<text class="l3" x="270" y="103">24.98%</text><text class="l3" x="510" y="103">12.48%</text><text class="l3" x="750" y="103">0.00%</text><text class="l3" x="990" y="103">0.00%</text>
</g>

<g id="row17" transform="translate(0,2461)">
<use href="#m4" x="31"/><use href="#m4" x="271"/><use href="#m4" x="511"/><use href="#m4" x="751"/>
<rect class="bd" x="31" width="960" height="61"/>
<text class="mn" x="31" y="-7">65</text><text class="mn" x="271" y="-7">66</text><text class="mn" x="511" y="-7">67</text><text class="mn" x="751" y="-7">68</text>
<text class="tp" x="271" y="-20"><tspan class="q">♩</tspan>=138</text><text class="tp" x="511" y="-20"><tspan class="q">♩</tspan>=145</text><text class="tp" x="751" y="-20"><tspan class="q">♩</tspan>=136</text><text class="tp" x="811" y="-20"><tspan class="q">♩</tspan>=140</text>
<circle class="y" cx="31" cy="30" r="5"/><circle class="y" cx="61" cy="30" r="5"/><circle class="y" cx="151" cy="30" r="5"/><circle class="y" cx="181" cy="30" r="5"/><circle class="y" cx="241" cy="30" r="5"/>
<circle class="o" cx="271" cy="60" r="5"/><circle class="o" cx="331" cy="60" r="5"/><circle class="o" cx="391" cy="60" r="5"/><circle class="o" cx="451" cy="60" r="5"/><circle class="o" cx="511" cy="60" r="5"/><circle class="o" cx="571" cy="60" r="5"/><circle class="o" cx="631" cy="60" r="5"/><circle class="o" cx="691" cy="60" r="5"/>
<circle class="b" cx="751" cy="45" r="5"/><circle class="b" cx="781" cy="45" r="5"/><circle class="y" cx="871" cy="30" r="5"/><circle class="y" cx="901" cy="30" r="5"/>
<rect class="ob" x="31" y="0" width="240" height="61"/><rect class="or" x="270.5" y="0" width="1.5" height="61"/>
<text class="l1" x="270" y="76">125</text><text class="l1" x="510" y="76">100</text><text class="l1" x="750" y="76">100</text><text class="l1" x="990" y="76">100</text>
<text class="l2" x="270" y="90">75092</text><text class="l2" x="510" y="90">75842</text><text class="l2" x="750" y="90">76442</text><text class="l2" x="990" y="90">77042</text>
<text class="l3" x="270" y="103">0.00%</text><text class="l3" x="510" y="103">0.00%</text><text class="l3" x="750" y="103">0.00%</text><text class="l3" x="990" y="103">0.00%</text>
</g>

<g id="row18" transform="translate(0,2602)">
<rect class="py" x="511" y="-10" width="180" height="82"/>
<use href="#m4" x="31"/><use href="#m4" x="271"/><use href="#m4" x="511"/><use href="#m4" x="751"/>
<rect class="bd" x="31" width="960" height="61"/>
<text class="mn" x="31" y="-7">69</text><text class="mn" x="271" y="-7">70</text><text class="mn" x="511" y="-7">71</text><text class="mn" x="751" y="-7">72</text>
<text class="tp" x="31" y="-20"><tspan class="q">♩</tspan>=139</text><text class="tp" x="271" y="-20"><tspan class="q">♩</tspan>=141</text><text class="tp" x="511" y="-20"><tspan class="q">♩</tspan>=146</text><text class="tp" x="751" y="-20"><tspan class="q">♩</tspan>=139</text>
<circle class="r" cx="31" cy="15" r="5"/><circle class="r" cx="61" cy="15" r="5"/><circle class="g" cx="151" cy="0" r="5"/><circle class="g" cx="181" cy="0" r="5"/>
<circle class="b" cx="271" cy="45" r="5"/><circle class="b" cx="331" cy="45" r="5"/><circle class="b" cx="391" cy="45" r="5"/><circle class="b" cx="451" cy="45" r="5"/>
<use href="#st" class="y" x="511" y="30"/><use href="#st" class="y" x="541" y="30"/><use href="#st" class="y" x="571" y="30"/><use href="#st" class="y" x="601" y="30"/><use href="#st" class="y" x="631" y="30"/><use href="#st" class="y" x="661" y="30"/><use href="#st" class="y" x="691" y="30"/>
<rect class="o" x="751" y="56.5" width="45" height="7"/><circle class="o" cx="751" cy="60" r="5"/>
<rect class="o" x="811" y="56.5" width="45" height="7"/><circle class="o" cx="811" cy="60" r="5"/>
<rect class="o" x="871" y="56.5" width="45" height="7"/><circle class="o" cx="871" cy="60" r="5"/>
<rect class="o" x="931" y="56.5" width="45" height="7"/><circle class="o" cx="931" cy="60" r="5"/>
<rect class="og" x="511" y="0" width="180" height="61"/>
<text class="l1" x="270" y="76">100</text><text class="l1" x="510" y="76">100</text><text class="l1" x="750" y="76">175</text><text class="l1" x="990" y="76">136</text>
<text class="l2" x="270" y="90">77642</text><text class="l2" x="510" y="90">78242</text><text class="l2" x="750" y="90">79292</text><text class="l2" x="990" y="90">80108</text>
<text class="l3" x="270" y="103">0.00%</text><text class="l3" x="510" y="103">0.00%</text><text class="l3" x="750" y="103">25.00%</text><text class="l3" x="990" y="103">25.00%</text>
</g>

<g id="row19" transform="translate(0,2743)">
<use href="#m4" x="31"/><use href="#m4" x="271"/><use href="#m4" x="511"/><use href="#m4" x="751"/>
<rect class="bd" x="31" width="960" height="61"/>
<text class="mn" x="31" y="-7">73</text><text class="mn" x="271" y="-7">74</text><text class="mn" x="511" y="-7">75</text><text class="mn" x="751" y="-7">76</text>
<text class="tp" x="31" y="-20"><tspan class="q">♩</tspan>=145</text><text class="tp" x="271" y="-20"><tspan class="q">♩</tspan>=136</text><text class="tp" x="391" y="-20"><tspan class="q">♩</tspan>=140</text><text class="tp" x="691" y="-20"><tspan class="q">♩</tspan>=148</text><text class="tp" x="751" y="-20"><tspan class="q">♩</tspan>=141</text>
<circle class="o" cx="31" cy="60" r="5"/><circle class="g" cx="61" cy="0" r="5"/><circle class="r" cx="91" cy="15" r="5"/>
<rect class="b" x="121" y="41.5" width="45" height="7"/><circle class="b" cx="121" cy="45" r="5"/>
<circle class="b" cx="181" cy="45" r="5"/>
<rect class="b" x="211" y="41.5" width="45" height="7"/><circle class="b" cx="211" cy="45" r="5"/>
<rect class="o" x="271" y="56.5" width="45" height="7"/><circle class="o" cx="271" cy="60" r="5"/>
<rect class="b" x="331" y="41.5" width="45" height="7"/><circle class="b" cx="331" cy="45" r="5"/>
<circle class="r" cx="391" cy="15" r="5"/><circle class="r" cx="421" cy="15" r="5"/><circle class="g" cx="451" cy="0" r="5"/><circle class="g" cx="481" cy="0" r="5"/>
<circle class="y" cx="511" cy="30" r="5"/><circle class="y" cx="541" cy="30" r="5"/><circle class="y" cx="571" cy="30" r="5"/><circle class="y" cx="601" cy="30" r="5"/><circle class="y" cx="616" cy="30" r="5"/>
<circle class="b" cx="631" cy="45" r="5"/><circle class="o" cx="661" cy="60" r="5"/><circle class="b" cx="691" cy="45" r="5"/><circle class="y" cx="721" cy="30" r="5"/>
<circle class="r" cx="751" cy="15" r="5"/><circle class="r" cx="781" cy="15" r="5"/><circle class="r" cx="811" cy="15" r="5"/><circle class="r" cx="841" cy="15" r="5"/><circle class="r" cx="856" cy="15" r="5"/>
<circle class="y" cx="871" cy="30" r="5"/><circle class="b" cx="901" cy="45" r="5"/><circle class="y" cx="931" cy="30" r="5"/><circle class="r" cx="961" cy="15" r="5"/>
<rect class="ob" x="181" y="0" width="810" height="61"/>
<text class="l1" x="270" y="76">168</text><text class="l1" x="510" y="76">168</text><text class="l1" x="750" y="76">225</text><text class="l1" x="990" y="76">225</text>
<text class="l2" x="270" y="90">81470</text><text class="l2" x="510" y="90">83486</text><text class="l2" x="750" y="90">86186</text><text class="l2" x="990" y="90">88886</text>
<text class="l3" x="270" y="103">20.29%</text><text class="l3" x="510" y="103">7.79%</text><text class="l3" x="750" y="103">0.00%</text><text class="l3" x="990" y="103">0.00%</text>
</g>

<g id="row20" transform="translate(0,2884)">
<use href="#m4" x="31"/><use href="#m4" x="271"/><use href="#m4" x="511"/><use href="#m4" x="751"/>
<rect class="bd" x="31" width="960" height="61"/>
<text class="mn" x="31" y="-7">77</text><text class="mn" x="271" y="-7">78</text><text class="mn" x="511" y="-7">79</text><text class="mn" x="751" y="-7">80</text>
<text class="tp" x="31" y="-20"><tspan class="q">♩</tspan>=139</text><text class="tp" x="271" y="-20"><tspan class="q">♩</tspan>=143</text><text class="tp" x="751" y="-20"><tspan class="q">♩</tspan>=140</text>
<use href="#st" class="y" x="31" y="30"/><use href="#st" class="y" x="61" y="30"/><use href="#st" class="y" x="91" y="30"/><use href="#st" class="y" x="121" y="30"/><use href="#st" class="y" x="136" y="30"/><use href="#st" class="b" x="151" y="45"/><use href="#st" class="o" x="181" y="60"/><use href="#st" class="b" x="211" y="45"/>
<rect class="o" x="241" y="56.5" width="45" height="7"/><use href="#st" class="o" x="241" y="60"/>
<circle class="o" cx="301" cy="60" r="5"/>
<rect class="o" x="331" y="56.5" width="45" height="7"/><circle class="o" cx="331" cy="60" r="5"/>
<rect class="b" x="391" y="41.5" width="45" height="7"/><circle class="b" cx="391" cy="45" r="5"/>
<rect class="r" x="451" y="11.5" width="45" height="7"/><circle class="r" cx="451" cy="15" r="5"/>
<circle class="y" cx="511" cy="30" r="5"/><circle class="y" cx="541" cy="30" r="5"/><circle class="y" cx="571" cy="30" r="5"/><circle class="y" cx="601" cy="30" r="5"/><circle class="y" cx="616" cy="30" r="5"/>
<circle class="b" cx="631" cy="45" r="5"/><circle class="o" cx="661" cy="60" r="5"/><circle class="b" cx="691" cy="45" r="5"/><circle class="y" cx="721" cy="30" r="5"/>
<circle class="r" cx="751" cy="15" r="5"/><circle class="r" cx="781" cy="15" r="5"/><circle class="r" cx="811" cy="15" r="5"/><circle class="r" cx="841" cy="15" r="5"/><circle class="r" cx="856" cy="15" r="5"/>
<circle class="y" cx="871" cy="30" r="5"/><circle class="b" cx="901" cy="45" r="5"/><circle class="y" cx="931" cy="30" r="5"/><circle class="r" cx="961" cy="15" r="5"/>
<rect class="og" x="31" y="0" width="255" height="61"/><rect class="ob" x="31" y="0" width="150" height="61"/><rect class="or" x="180.5" y="0" width="1.5" height="61"/>
<text class="l1" x="270" y="76">231</text><text class="l1" x="510" y="76">130</text><text class="l1" x="750" y="76">225</text><text class="l1" x="990" y="76">225</text>
<text class="l2" x="270" y="90">91322</text><text class="l2" x="510" y="90">92102</text><text class="l2" x="750" y="90">93452</text><text class="l2" x="990" y="90">94802</text>
<text class="l3" x="270" y="103">26.70%</text><text class="l3" x="510" y="103">27.55%</text><text class="l3" x="750" y="103">27.55%</text><text class="l3" x="990" y="103">27.55%</text>
</g>

<g id="row21" transform="translate(0,3025)">
<use href="#m4" x="31"/><use href="#m4" x="271"/><use href="#m4" x="511"/><use href="#m4" x="751"/>
<rect class="bd" x="31" width="960" height="61"/>
<text class="mn" x="31" y="-7">81</text><text class="mn" x="271" y="-7">82</text><text class="mn" x="511" y="-7">83</text><text class="mn" x="751" y="-7">84</text>
<text class="tp" x="31" y="-20"><tspan class="q">♩</tspan>=139</text><text class="tp" x="271" y="-20"><tspan class="q">♩</tspan>=142</text><text class="tp" x="511" y="-20"><tspan class="q">♩</tspan>=141</text><text class="tp" x="751" y="-20"><tspan class="q">♩</tspan>=143</text>
<circle class="y" cx="31" cy="30" r="5"/><circle class="y" cx="61" cy="30" r="5"/><circle class="y" cx="121" cy="30" r="5"/>
<rect class="b" x="151" y="41.5" width="45" height="7"/><circle class="b" cx="151" cy="45" r="5"/>
<rect class="o" x="211" y="56.5" width="45" height="7"/><circle class="o" cx="211" cy="60" r="5"/>
<rect class="o" x="271" y="56.5" width="45" height="7"/><circle class="o" cx="271" cy="60" r="5"/>
<rect class="o" x="331" y="56.5" width="45" height="7"/><circle class="o" cx="331" cy="60" r="5"/>
<rect class="o" x="391" y="56.5" width="45" height="7"/><circle class="o" cx="391" cy="60" r="5"/>
<circle class="o" cx="451" cy="60" r="5"/><circle class="r" cx="481" cy="15" r="5"/>
<rect class="r" x="511" y="11.5" width="75" height="7"/><circle class="r" cx="511" cy="15" r="5"/>
<circle class="r" cx="601" cy="15" r="5"/><circle class="r" cx="616" cy="15" r="5"/><circle class="r" cx="631" cy="15" r="5"/><circle class="r" cx="661" cy="15" r="5"/>
<circle class="y" cx="721" cy="30" r="5"/><circle class="y" cx="736" cy="30" r="5"/>
<use href="#st" class="y" x="751" y="30"/><use href="#st" class="y" x="811" y="30"/><use href="#st" class="y" x="841" y="30"/><use href="#st" class="y" x="856" y="30"/><use href="#st" class="b" x="871" y="45"/><use href="#st" class="o" x="901" y="60"/><use href="#st" class="b" x="931" y="45"/><use href="#st" class="y" x="961" y="30"/>
<rect class="og" x="751" y="0" width="240" height="61"/>
<text class="l1" x="270" y="76">143</text><text class="l1" x="510" y="76">152</text><text class="l1" x="750" y="76">190</text><text class="l1" x="990" y="76">200</text>
<text class="l2" x="270" y="90">95660</text><text class="l2" x="510" y="90">96572</text><text class="l2" x="750" y="90">97712</text><text class="l2" x="990" y="90">98912</text>
<text class="l3" x="270" y="103">27.55%</text><text class="l3" x="510" y="103">27.55%</text><text class="l3" x="750" y="103">27.55%</text><text class="l3" x="990" y="103">27.55%</text>
</g>

<g id="row22" transform="translate(0,3166)">
<use href="#m4" x="31"/><use href="#m4" x="271"/><use href="#m4" x="511"/><use href="#m4" x="751"/>
<rect class="bd" x="31" width="960" height="61"/>
<text class="mn" x="31" y="-7">85</text><text class="mn" x="271" y="-7">86</text><text class="mn" x="511" y="-7">87</text><text class="mn" x="751" y="-7">88</text>
<text class="tp" x="31" y="-20"><tspan class="q">♩</tspan>=142</text><text class="tp" x="511" y="-20"><tspan class="q">♩</tspan>=145</text><text class="tp" x="751" y="-20"><tspan class="q">♩</tspan>=142</text>
<use href="#st" class="g" x="31" y="0"/>
<rect class="o" x="271" y="56.5" width="60" height="7"/><circle class="o" cx="271" cy="60" r="5"/>
<circle class="y" cx="361" cy="30" r="5"/><circle class="r" cx="391" cy="15" r="5"/><circle class="g" cx="451" cy="0" r="5"/><circle class="g" cx="511" cy="0" r="5"/>
<circle class="r" cx="541" cy="15" r="5"/><circle class="y" cx="571" cy="30" r="5"/>
<rect class="o" x="601" y="56.5" width="45" height="7"/><circle class="o" cx="601" cy="60" r="5"/>
<circle class="b" cx="661" cy="45" r="5"/><circle class="r" cx="721" cy="15" r="5"/><circle class="o" cx="751" cy="60" r="5"/><circle class="r" cx="781" cy="15" r="5"/><circle class="y" cx="811" cy="30" r="5"/>
<rect class="o" x="841" y="56.5" width="45" height="7"/><circle class="o" cx="841" cy="60" r="5"/>
<circle class="b" cx="901" cy="45" r="5"/><circle class="r" cx="961" cy="15" r="5"/>
<rect class="or" x="511" y="0" width="4.6" height="61"/><rect class="ob" x="515.6" y="0" width="475.4" height="61"/>
<text class="l1" x="270" y="76">25</text><text class="l1" x="510" y="76">112</text><text class="l1" x="750" y="76">159</text><text class="l1" x="990" y="76">159</text>
<text class="l2" x="270" y="90">99062</text><text class="l2" x="510" y="90">99734</text><text class="l2" x="750" y="90">101642</text><text class="l2" x="990" y="90">103550</text>
<text class="l3" x="270" y="103">52.55%</text><text class="l3" x="510" y="103">52.55%</text><text class="l3" x="750" y="103">40.31%</text><text class="l3" x="990" y="103">27.81%</text>
</g>

<g id="row23" transform="translate(0,3307)">
<use href="#m4" x="31"/><use href="#m4" x="271"/><use href="#m4" x="511"/><use href="#m4" x="751"/>
<rect class="bd" x="31" width="960" height="61"/>
<text class="mn" x="31" y="-7">89</text><text class="mn" x="271" y="-7">90</text><text class="mn" x="511" y="-7">91</text><text class="mn" x="751" y="-7">92</text>
<text class="tp" x="31" y="-20"><tspan class="q">♩</tspan>=140</text><text class="tp" x="271" y="-20"><tspan class="q">♩</tspan>=146</text><text class="tp" x="511" y="-20"><tspan class="q">♩</tspan>=141</text><text class="tp" x="751" y="-20"><tspan class="q">♩</tspan>=142</text>
<circle class="o" cx="31" cy="60" r="5"/><circle class="r" cx="61" cy="15" r="5"/><circle class="y" cx="91" cy="30" r="5"/>
<rect class="o" x="121" y="56.5" width="45" height="7"/><circle class="o" cx="121" cy="60" r="5"/>
<circle class="b" cx="181" cy="45" r="5"/><circle class="r" cx="241" cy="15" r="5"/><circle class="o" cx="271" cy="60" r="5"/><circle class="r" cx="301" cy="15" r="5"/><circle class="y" cx="331" cy="30" r="5"/>
<rect class="o" x="361" y="56.5" width="45" height="7"/><circle class="o" cx="361" cy="60" r="5"/>
<circle class="b" cx="421" cy="45" r="5"/><circle class="r" cx="481" cy="15" r="5"/><circle class="o" cx="511" cy="60" r="5"/><circle class="r" cx="541" cy="15" r="5"/><circle class="y" cx="571" cy="30" r="5"/>
<rect class="o" x="601" y="56.5" width="90" height="7"/><circle class="o" cx="601" cy="60" r="5"/>
<circle class="r" cx="721" cy="15" r="5"/><circle class="o" cx="751" cy="60" r="5"/><circle class="r" cx="781" cy="15" r="5"/><circle class="y" cx="811" cy="30" r="5"/>
<rect class="o" x="841" y="56.5" width="90" height="7"/><circle class="o" cx="841" cy="60" r="5"/>
<circle class="r" cx="961" cy="15" r="5"/>
<rect class="ob" x="31" y="0" width="533.6" height="61"/><rect class="or" x="564.6" y="0" width="6.4" height="61"/>
<text class="l1" x="270" y="76">159</text><text class="l1" x="510" y="76">159</text><text class="l1" x="750" y="76">143</text><text class="l1" x="990" y="76">143</text>
<text class="l2" x="270" y="90">105458</text><text class="l2" x="510" y="90">107366</text><text class="l2" x="750" y="90">108674</text><text class="l2" x="990" y="90">109532</text>
<text class="l3" x="270" y="103">15.31%</text><text class="l3" x="510" y="103">2.81%</text><text class="l3" x="750" y="103">0.00%</text><text class="l3" x="990" y="103">0.00%</text>
</g>

<g id="row24" transform="translate(0,3448)">
<use href="#m4" x="31"/><use href="#m4" x="271"/><use href="#m4" x="511"/>
<rect class="bd" x="31" width="720" height="61"/>
<text class="mn" x="31" y="-7">93</text><text class="mn" x="271" y="-7">94</text><text class="mn" x="511" y="-7">95</text>
<text class="tp" x="31" y="-20"><tspan class="q">♩</tspan>=145</text>
<circle class="o" cx="31" cy="60" r="5"/><circle class="r" cx="61" cy="15" r="5"/><circle class="y" cx="91" cy="30" r="5"/>
<rect class="o" x="121" y="56.5" width="75" height="7"/><circle class="o" cx="121" cy="60" r="5"/>
<circle class="y" cx="211" cy="30" r="5"/><circle class="r" cx="241" cy="15" r="5"/><circle class="o" cx="271" cy="60" r="5"/><circle class="r" cx="301" cy="15" r="5"/><circle class="y" cx="331" cy="30" r="5"/>
<rect class="o" x="361" y="56.5" width="270" height="7"/><circle class="o" cx="361" cy="60" r="5"/>
<text class="l1" x="270" y="76">165</text><text class="l1" x="510" y="76">130</text><text class="l1" x="750" y="76">24</text>
<text class="l2" x="270" y="90">110522</text><text class="l2" x="510" y="90">111302</text><text class="l2" x="750" y="90">111446</text>
<text class="l3" x="270" y="103">0.00%</text><text class="l3" x="510" y="103">0.00%</text><text class="l3" x="750" y="103">0.00%</text>
</g>
</svg>
